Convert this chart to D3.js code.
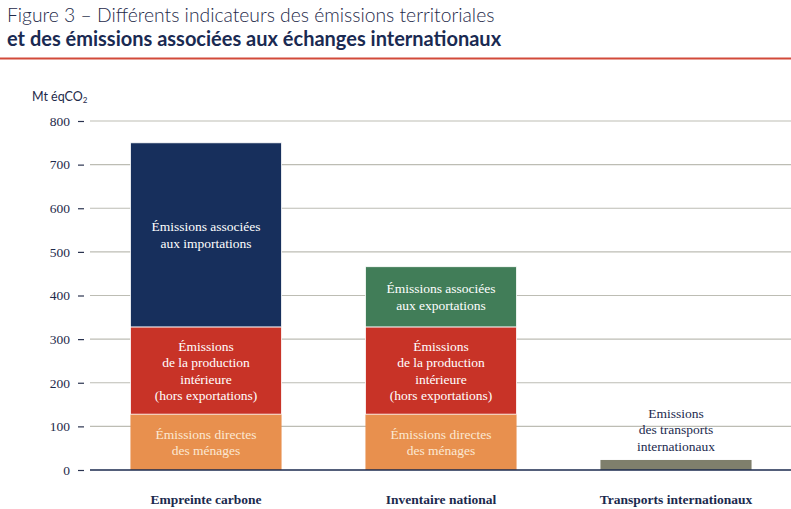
<!DOCTYPE html>
<html><head><meta charset="utf-8">
<script src="https://cdn.jsdelivr.net/npm/d3@7"></script>
<style>
body{margin:0;background:#fff;}
svg{display:block;}
</style></head>
<body>
<svg id="chart" width="791" height="509"></svg>
<script>
const categories = ["Empreinte carbone", "Inventaire national", "Transports internationaux"];
const seriesKeys = ["menages", "production", "importations", "exportations", "transports"];
const menages      = [128, 128, 0];
const production   = [200, 200, 0];
const importations = [422, 0, 0];
const exportations = [0, 138, 0];
const transports   = [0, 0, 23];
const yTicks = [0, 100, 200, 300, 400, 500, 600, 700, 800];
const seriesLabels = {
  menages: ["Émissions directes", "des ménages"],
  production: ["Émissions", "de la production", "intérieure", "(hors exportations)"],
  importations: ["Émissions associées", "aux importations"],
  exportations: ["Émissions associées", "aux exportations"],
  transports: ["Emissions", "des transports", "internationaux"]
};
const colors = {
  menages: "#e8904e",
  production: "#c83327",
  importations: "#172f5c",
  exportations: "#417d58",
  transports: "#7f7f6c"
};
const textColors = {
  menages: "#fbe8d3",
  production: "#ffffff",
  importations: "#ffffff",
  exportations: "#ffffff",
  transports: "#1b2a4e"
};

const valuesByKey = {menages, production, importations, exportations, transports};
const table = categories.map((c, i) => {
  const row = {category: c};
  seriesKeys.forEach(k => row[k] = valuesByKey[k][i]);
  return row;
});

const svg = d3.select("#chart");
const serif = "'Liberation Serif', 'DejaVu Serif', serif";
const sans = "Lato, 'Noto Sans', sans-serif";

// Title
svg.append("text").attr("x", 7).attr("y", 22)
  .attr("font-family", sans).attr("font-size", 19.3).attr("font-weight", 300).attr("fill", "#1e2a4a")
  .text("Figure 3 – Différents indicateurs des émissions territoriales");
svg.append("text").attr("x", 7).attr("y", 46)
  .attr("font-family", sans).attr("font-size", 20).attr("font-weight", 700).attr("fill", "#1a2a52")
  .text("et des émissions associées aux échanges internationaux");
svg.append("line").attr("x1", 0).attr("x2", 791).attr("y1", 58.5).attr("y2", 58.5)
  .attr("stroke", "#d24a3a").attr("stroke-width", 2);

// unit
const unit = svg.append("text").attr("x", 32).attr("y", 101)
  .attr("font-family", sans).attr("font-size", 12.5).attr("fill", "#1e2a4a");
unit.append("tspan").text("Mt éqCO");
unit.append("tspan").attr("font-size", 8).attr("dy", 2).text("2");

const x = d3.scaleBand().domain(categories).range([88.5, 793.5])
  .paddingInner(0.357).paddingOuter(0.1785);
const y = d3.scaleLinear().domain([0, 800]).range([470, 121]);

// grid
svg.append("g").selectAll("line").data(yTicks.filter(d => d > 0)).join("line")
  .attr("x1", 90).attr("x2", 791)
  .attr("y1", d => y(d)).attr("y2", d => y(d))
  .attr("stroke", "#bdbdb4").attr("stroke-width", 1.2);

// y axis
const yAxis = d3.axisLeft(y).tickValues(yTicks).tickSize(0).tickPadding(0).tickFormat(d3.format("d"));
const gy = svg.append("g").attr("transform", "translate(70,0)").call(yAxis);
gy.select(".domain").remove();
gy.selectAll("text").attr("font-family", serif).attr("font-size", 13.5).attr("fill", "#1e2a4a")
  .attr("x", 0).attr("dy", "0.32em");
gy.selectAll(".tick").append("line")
  .attr("x1", 8).attr("x2", 14).attr("y1", 0).attr("y2", 0)
  .attr("stroke", "#2a3350").attr("stroke-width", 1.2);

// bars
const stack = d3.stack().keys(seriesKeys)(table);
const g = svg.append("g");
stack.forEach(layer => {
  const key = layer.key;
  layer.forEach((d, i) => {
    if (d[1] - d[0] <= 0) return;
    const cat = categories[i];
    g.append("rect")
      .attr("x", x(cat)).attr("width", x.bandwidth())
      .attr("y", y(d[1])).attr("height", y(d[0]) - y(d[1]))
      .attr("fill", colors[key])
      .attr("stroke", "#fff").attr("stroke-width", d[0] > 0 ? 0.8 : 0);
  });
});

// baseline
svg.append("line").attr("x1", 90).attr("x2", 791).attr("y1", y(0)).attr("y2", y(0))
  .attr("stroke", "#1b2a4e").attr("stroke-width", 1.5);

// segment labels
const lh = 16.5;
stack.forEach(layer => {
  const key = layer.key;
  layer.forEach((d, i) => {
    if (d[1] - d[0] <= 0) return;
    const cat = categories[i];
    const lines = seriesLabels[key];
    const cx = x(cat) + x.bandwidth() / 2;
    let cy;
    if (key === "transports") {
      cy = y(d[1]) - 12 - (lines.length - 1) * lh / 2 - 2;
    } else {
      cy = (y(d[0]) + y(d[1])) / 2;
    }
    const t = g.append("text").attr("text-anchor", "middle")
      .attr("font-family", serif).attr("font-size", 13.5).attr("fill", textColors[key]);
    lines.forEach((ln, j) => {
      t.append("tspan").attr("x", cx)
        .attr("y", cy + (j - (lines.length - 1) / 2) * lh)
        .attr("dy", "0.35em").text(ln);
    });
  });
});

// x axis labels
const xAxis = d3.axisBottom(x).tickSize(0).tickPadding(0);
const gx = svg.append("g").attr("transform", "translate(0,499)").call(xAxis);
gx.select(".domain").remove();
gx.selectAll("text").attr("font-family", serif).attr("font-size", 13.5).attr("font-weight", 700)
  .attr("fill", "#1b2a4e").attr("dy", "0.35em").attr("y", 0);
</script>
</body></html>
